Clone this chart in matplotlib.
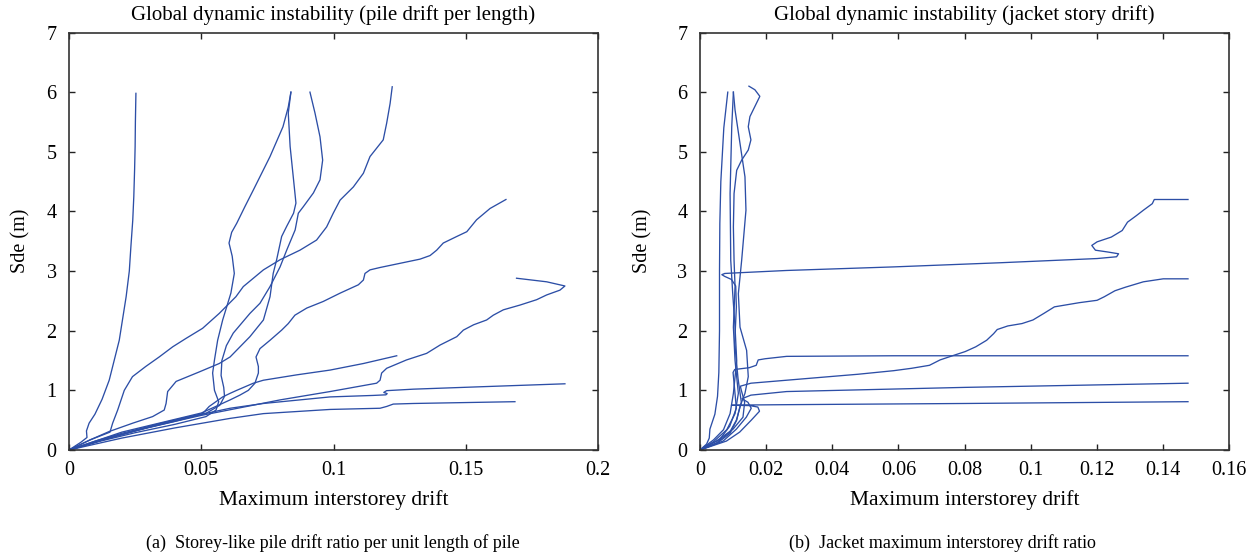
import matplotlib
matplotlib.use("Agg")
import matplotlib.pyplot as plt
from matplotlib.ticker import FuncFormatter

# ---- data: (drift, Sde) points per record ----
pile_1 = [(0, 0), (0.0045, 0.13), (0.0068, 0.21), (0.0066, 0.32), (0.0076, 0.45), (0.0098, 0.6),
          (0.0125, 0.85), (0.0152, 1.17), (0.019, 1.84), (0.0216, 2.57), (0.0228, 3.0), (0.0234, 3.41),
          (0.0241, 3.85), (0.0245, 4.25), (0.0248, 4.7), (0.025, 5.09), (0.0251, 5.5), (0.0253, 5.98)]
pile_2 = [(0, 0), (0.008, 0.17), (0.0155, 0.3), (0.0165, 0.45), (0.0184, 0.67), (0.0209, 1.0),
          (0.024, 1.23), (0.029, 1.4), (0.0341, 1.56), (0.0392, 1.73), (0.0442, 1.87), (0.0505, 2.04),
          (0.0568, 2.29), (0.0631, 2.57), (0.0659, 2.74), (0.0735, 3.02), (0.0798, 3.19), (0.0873, 3.35),
          (0.0936, 3.52), (0.0974, 3.74), (0.0999, 3.97), (0.1025, 4.19), (0.1075, 4.41), (0.1113, 4.64),
          (0.1138, 4.92), (0.1188, 5.2), (0.1201, 5.48), (0.1214, 5.81), (0.1222, 6.09)]
pile_3 = [(0, 0), (0.012, 0.15), (0.025, 0.29), (0.04, 0.43), (0.0518, 0.56), (0.0556, 0.67),
          (0.0566, 0.81), (0.055, 1.0), (0.0543, 1.29), (0.055, 1.51), (0.0562, 1.84), (0.0581, 2.18),
          (0.0612, 2.63), (0.0625, 2.96), (0.0617, 3.25), (0.0605, 3.47), (0.0615, 3.65), (0.0634, 3.8),
          (0.0665, 4.08), (0.0697, 4.36), (0.076, 4.92), (0.0809, 5.42), (0.0829, 5.75), (0.0839, 6.0)]
pile_4 = [(0, 0), (0.008, 0.17), (0.0152, 0.31), (0.0241, 0.45), (0.0316, 0.56), (0.036, 0.67),
          (0.0367, 0.78), (0.0373, 0.98), (0.0405, 1.15), (0.0493, 1.31), (0.0568, 1.45), (0.0609, 1.56),
          (0.0684, 1.9), (0.0735, 2.18), (0.076, 2.57), (0.0772, 2.96), (0.0785, 3.19), (0.0804, 3.58),
          (0.0823, 3.75), (0.0849, 3.97), (0.0858, 4.14), (0.0849, 4.53), (0.0836, 5.09), (0.0829, 5.65),
          (0.0839, 6.0)]
pile_5 = [(0, 0), (0.012, 0.16), (0.025, 0.32), (0.04, 0.48), (0.052, 0.62), (0.057, 0.75),
          (0.0588, 0.9), (0.0585, 1.05), (0.0575, 1.25), (0.0578, 1.5), (0.0595, 1.75), (0.0621, 1.96),
          (0.0684, 2.29), (0.0722, 2.46), (0.076, 2.74), (0.0798, 3.07), (0.0823, 3.35), (0.0855, 3.69),
          (0.0867, 3.97), (0.0886, 4.08), (0.0924, 4.31), (0.0949, 4.53), (0.0959, 4.86), (0.0949, 5.25),
          (0.093, 5.65), (0.0911, 6.0)]
pile_6 = [(0, 0), (0.01, 0.15), (0.02, 0.3), (0.035, 0.46), (0.05, 0.62), (0.055, 0.72), (0.0609, 0.84),
          (0.0646, 0.92), (0.0678, 1.0), (0.0703, 1.12), (0.0716, 1.29), (0.0716, 1.4), (0.0707, 1.56),
          (0.0722, 1.7), (0.076, 1.84), (0.0804, 2.01), (0.0829, 2.12), (0.0854, 2.26), (0.0899, 2.38),
          (0.0961, 2.49), (0.1025, 2.63), (0.1094, 2.77), (0.1113, 2.85), (0.1119, 2.96), (0.1138, 3.02),
          (0.1176, 3.06), (0.1327, 3.2), (0.1365, 3.26), (0.139, 3.35), (0.1415, 3.47), (0.1466, 3.58),
          (0.1504, 3.66), (0.1541, 3.86), (0.1592, 4.05), (0.1652, 4.2)]
pile_7 = [(0, 0), (0.015, 0.2), (0.03, 0.38), (0.05, 0.58), (0.0672, 0.73), (0.0798, 0.84),
          (0.0987, 0.98), (0.1163, 1.12), (0.1176, 1.17), (0.1182, 1.29), (0.1201, 1.37), (0.1276, 1.51),
          (0.1352, 1.62), (0.1403, 1.76), (0.1466, 1.9), (0.1491, 2.01), (0.153, 2.1), (0.1579, 2.18),
          (0.1604, 2.26), (0.1642, 2.35), (0.1705, 2.43), (0.1768, 2.52), (0.1806, 2.6), (0.1856, 2.68),
          (0.1875, 2.75), (0.1806, 2.82), (0.1692, 2.88)]
pile_8 = [(0, 0), (0.01, 0.15), (0.02, 0.28), (0.035, 0.45), (0.0505, 0.61), (0.053, 0.73),
          (0.0581, 0.89), (0.0609, 0.95), (0.0634, 1.0), (0.0697, 1.12), (0.0735, 1.17), (0.0861, 1.26),
          (0.0987, 1.34), (0.1113, 1.45), (0.1239, 1.58)]
pile_9 = [(0, 0), (0.015, 0.2), (0.03, 0.38), (0.045, 0.55), (0.0609, 0.7), (0.0735, 0.78),
          (0.0987, 0.89), (0.115, 0.915), (0.1198, 0.925), (0.1203, 0.945), (0.119, 0.965),
          (0.1201, 0.995), (0.1302, 1.02), (0.1554, 1.06), (0.1875, 1.11)]
pile_10 = [(0, 0), (0.02, 0.2), (0.04, 0.37), (0.0609, 0.53), (0.0735, 0.61), (0.0987, 0.68),
           (0.1176, 0.7), (0.1201, 0.73), (0.1226, 0.77), (0.1302, 0.78), (0.1686, 0.81)]

jacket_1 = [(0, 0), (0.005, 0.12), (0.009, 0.3), (0.011, 0.5), (0.0125, 0.8), (0.0115, 1.2),
            (0.0105, 1.8), (0.011, 2.4), (0.0108, 2.75), (0.0095, 2.86), (0.0075, 2.91), (0.0066, 2.94),
            (0.0075, 2.96), (0.0111, 2.97), (0.0262, 3.01), (0.0586, 3.07), (0.091, 3.14), (0.1201, 3.21),
            (0.126, 3.24), (0.1266, 3.29), (0.1233, 3.32), (0.1196, 3.35), (0.1185, 3.43), (0.1201, 3.49),
            (0.1244, 3.57), (0.1277, 3.68), (0.1293, 3.82), (0.132, 3.93), (0.1341, 4.02), (0.1368, 4.13),
            (0.1374, 4.2), (0.1476, 4.2)]
jacket_2 = [(0, 0), (0.005, 0.15), (0.01, 0.35), (0.013, 0.55), (0.0135, 0.8), (0.0125, 1.0),
            (0.0122, 1.07), (0.0154, 1.12), (0.0262, 1.17), (0.037, 1.22), (0.0478, 1.27), (0.0586, 1.33),
            (0.064, 1.37), (0.0694, 1.42), (0.0726, 1.51), (0.0769, 1.59), (0.0802, 1.65), (0.0834, 1.73),
            (0.0867, 1.84), (0.0888, 1.95), (0.0899, 2.02), (0.0931, 2.08), (0.0974, 2.12), (0.1007, 2.18),
            (0.104, 2.29), (0.1072, 2.4), (0.1147, 2.47), (0.1201, 2.51), (0.1223, 2.57), (0.1255, 2.67),
            (0.1287, 2.73), (0.1341, 2.82), (0.1401, 2.87), (0.1476, 2.87)]
jacket_3 = [(0, 0), (0.006, 0.18), (0.009, 0.4), (0.011, 0.7), (0.0105, 1.0), (0.01, 1.3),
            (0.0105, 1.35), (0.0149, 1.38), (0.017, 1.42), (0.0176, 1.51), (0.0197, 1.53), (0.0262, 1.57),
            (0.0586, 1.58), (0.1476, 1.58)]
jacket_4 = [(0, 0), (0.007, 0.15), (0.011, 0.35), (0.014, 0.55), (0.0155, 0.7), (0.0145, 0.8),
            (0.0127, 0.86), (0.0154, 0.92), (0.0262, 0.98), (0.0802, 1.05), (0.1476, 1.12)]
jacket_5 = [(0, 0), (0.008, 0.15), (0.012, 0.3), (0.0155, 0.5), (0.018, 0.65), (0.0175, 0.72),
            (0.015, 0.745), (0.0095, 0.75), (0.015, 0.755), (0.0262, 0.76), (0.0802, 0.78), (0.1476, 0.81)]
jacket_6 = [(0, 0), (0.002, 0.1), (0.0028, 0.2), (0.003, 0.35), (0.0045, 0.6), (0.0053, 0.9),
            (0.0057, 1.3), (0.0059, 2.0), (0.0059, 3.0), (0.006, 3.8), (0.0063, 4.5), (0.0072, 5.4),
            (0.0084, 6.0)]
jacket_7 = [(0, 0), (0.0051, 0.11), (0.0091, 0.28), (0.0111, 0.5), (0.0121, 0.73), (0.0136, 0.95),
            (0.0146, 1.23), (0.0141, 1.67), (0.0121, 2.06), (0.0116, 2.62), (0.0126, 3.18), (0.0139, 4.02),
            (0.0136, 4.58), (0.0121, 5.14), (0.0106, 5.7), (0.0101, 6.0)]
jacket_8 = [(0, 0), (0.0041, 0.17), (0.0071, 0.34), (0.0091, 0.61), (0.0101, 0.95), (0.0111, 1.5),
            (0.0106, 2.06), (0.0099, 2.62), (0.0093, 3.18), (0.0091, 4.3), (0.0096, 5.42), (0.0101, 6.0)]
jacket_9 = [(0, 0), (0.0041, 0.14), (0.0081, 0.34), (0.0106, 0.61), (0.0116, 0.95), (0.0106, 1.5),
            (0.0101, 2.06), (0.0106, 2.74), (0.0103, 3.18), (0.0101, 3.74), (0.0103, 4.3), (0.0111, 4.69),
            (0.0126, 4.86), (0.0146, 5.03), (0.0154, 5.2), (0.0146, 5.42), (0.0151, 5.59), (0.0166, 5.76),
            (0.0181, 5.93), (0.0166, 6.04), (0.0148, 6.1)]

pile_curves = [pile_1, pile_2, pile_3, pile_4, pile_5, pile_6, pile_7, pile_8, pile_9, pile_10]
jacket_curves = [jacket_1, jacket_2, jacket_3, jacket_4, jacket_5, jacket_6, jacket_7, jacket_8, jacket_9]

pile_xticks = [0, 0.05, 0.1, 0.15, 0.2]
jacket_xticks = [0, 0.02, 0.04, 0.06, 0.08, 0.1, 0.12, 0.14, 0.16]
sde_ticks = [0, 1, 2, 3, 4, 5, 6, 7]

LINE = '#2c4ea6'
plt.rcParams['font.family'] = ['Liberation Serif', 'DejaVu Serif']

fig = plt.figure(figsize=(12.57, 5.56), dpi=100)
W, H = 1257, 556


def setup(ax, curves, xticks, title, ylab_x):
    for c in curves:
        xs = [p[0] for p in c]
        ys = [p[1] for p in c]
        ax.plot(xs, ys, color=LINE, lw=0.95, solid_joinstyle='round')
    ax.set_xlim(xticks[0], xticks[-1])
    ax.set_ylim(0, 7)
    ax.set_xticks(xticks)
    ax.set_yticks(sde_ticks)
    ax.xaxis.set_major_formatter(FuncFormatter(lambda v, p: '%g' % v))
    ax.tick_params(direction='in', top=True, right=True, length=4.5, width=1.0,
                   color='#222222', labelsize=14.5)
    ax.tick_params(axis='x', pad=8)
    ax.tick_params(axis='y', pad=9)
    for s in ax.spines.values():
        s.set_linewidth(1.2)
        s.set_color('#333333')
    ax.set_title(title, fontsize=15, pad=9)
    ax.set_xlabel('Maximum interstorey drift', fontsize=15.5)
    ax.set_ylabel('Sde (m)', fontsize=14.5)
    ax.xaxis.set_label_coords(0.5, -0.097)
    ax.yaxis.set_label_coords(ylab_x, 0.5)


ax1 = fig.add_axes([69 / W, 106 / H, 529 / W, 417.5 / H])
setup(ax1, pile_curves, pile_xticks,
      'Global dynamic instability (pile drift per length)', -0.073)
ax2 = fig.add_axes([700 / W, 106 / H, 529 / W, 417.5 / H])
setup(ax2, jacket_curves, jacket_xticks,
      'Global dynamic instability (jacket story drift)', -0.09)

fig.text(333 / W, 1 - 543 / H, '(a)  Storey-like pile drift ratio per unit length of pile',
         ha='center', va='center', fontsize=13)
fig.text(942 / W, 1 - 543 / H, '(b)  Jacket maximum interstorey drift ratio',
         ha='center', va='center', fontsize=13)

fig.savefig('out.png', dpi=100)
